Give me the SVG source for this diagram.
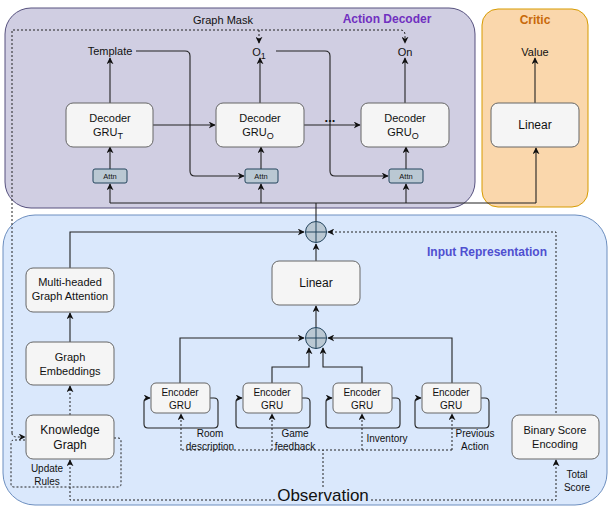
<svg xmlns="http://www.w3.org/2000/svg" width="609" height="510" viewBox="0 0 609 510">
<style>
text{font-family:"Liberation Sans",Arial,sans-serif;fill:#111}
.n{fill:#f5f5f5;stroke:#666;stroke-width:1}
.a{fill:#bac8d3;stroke:#23445d;stroke-width:1}
.l{fill:none;stroke:#222;stroke-width:1.1}
.d{fill:none;stroke:#222;stroke-width:1;stroke-dasharray:2 2}
.t{font-size:11px;text-anchor:middle}
.s{font-size:10px;text-anchor:middle}
.ttl{font-size:12px;font-weight:bold;text-anchor:middle}
</style>
<defs>
<marker id="ar" viewBox="0 0 10 10" refX="9" refY="5" markerWidth="7" markerHeight="7" orient="auto" markerUnits="userSpaceOnUse"><path d="M0,0 L10,5 L0,10 L3,5 z" fill="#111"/></marker>
</defs>
<g id="groups">
<rect x="5" y="8" width="470" height="200" rx="26" fill="#d0cee2" stroke="#56517e"/>
<text x="387" y="23" class="ttl" style="fill:#7030c0">Action Decoder</text>
<rect x="482" y="9" width="106" height="198" rx="16" fill="#fad7ac" stroke="#d79b00"/>
<text x="535" y="24" class="ttl" style="fill:#c8690a">Critic</text>
<rect x="3" y="215" width="604" height="290" rx="32" fill="#dae8fc" stroke="#6c8ebf"/>
<text x="487" y="256" class="ttl" style="fill:#4f4fd0">Input Representation</text>
</g>
<g id="connectors">
<path class="l" d="M110,103 V58" marker-end="url(#ar)"/>
<path class="l" d="M260,103 V58" marker-end="url(#ar)"/>
<path class="l" d="M405,103 V58" marker-end="url(#ar)"/>
<path class="l" d="M535,103 V58" marker-end="url(#ar)"/>
<path class="l" d="M110,169 V147" marker-end="url(#ar)"/>
<path class="l" d="M261,169 V147" marker-end="url(#ar)"/>
<path class="l" d="M406,169 V147" marker-end="url(#ar)"/>
<path class="l" d="M153,125 H215" marker-end="url(#ar)"/>
<path class="l" d="M304,125 H360" marker-end="url(#ar)"/>
<path class="l" d="M136,51 H185 Q190,51 190,56 V171 Q190,176 195,176 H244" marker-end="url(#ar)"/>
<path class="l" d="M276,51 H325 Q330,51 330,56 V171 Q330,176 335,176 H388" marker-end="url(#ar)"/>
<path class="l" d="M110,203 V184" marker-end="url(#ar)"/>
<path class="l" d="M261,203 V184" marker-end="url(#ar)"/>
<path class="l" d="M406,203 V184" marker-end="url(#ar)"/>
<path class="l" d="M536,203 V148" marker-end="url(#ar)"/>
<path class="l" d="M110,203 H536"/>
<path class="l" d="M316,221 V203"/>
<path class="d" d="M259,30 V43" marker-end="url(#ar)"/>
<path class="d" d="M12,433 V30 H400 Q405,30 405,35 V43" marker-end="url(#ar)"/>
<path class="d" d="M12,433 Q12,437 17,437 H25" marker-end="url(#ar)"/>
<path class="d" d="M114,438 H118 Q121,438 121,441 V484 Q121,487 118,487 H14 Q11,487 11,484 V443 Q11,440 14,440 H25"/>
<path class="l" d="M70,268 V232 H304" marker-end="url(#ar)"/>
<path class="d" d="M556,413 V232 H328" marker-end="url(#ar)"/>
<path class="l" d="M316,261 V244" marker-end="url(#ar)"/>
<path class="l" d="M316,327 V306" marker-end="url(#ar)"/>
<path class="l" d="M70,342 V313" marker-end="url(#ar)"/>
<path class="d" d="M70,415 V386" marker-end="url(#ar)"/>
<path class="l" d="M180,383 V338 H304" marker-end="url(#ar)"/>
<path class="l" d="M272,383 V367 H309 V348" marker-end="url(#ar)"/>
<path class="l" d="M362,383 V367 H323 V348" marker-end="url(#ar)"/>
<path class="l" d="M452,383 V338 H328" marker-end="url(#ar)"/>
<path class="l" d="M210,398 H214 Q218,398 218,402 V424 Q218,428 214,428 H148 Q144,428 144,424 V402 Q144,398 148,398 H150" marker-end="url(#ar)"/>
<path class="l" d="M302,398 H306 Q310,398 310,402 V424 Q310,428 306,428 H240 Q236,428 236,424 V402 Q236,398 240,398 H242" marker-end="url(#ar)"/>
<path class="l" d="M392,398 H396 Q400,398 400,402 V424 Q400,428 396,428 H330 Q326,428 326,424 V402 Q326,398 330,398 H332" marker-end="url(#ar)"/>
<path class="l" d="M481,398 H485 Q489,398 489,402 V424 Q489,428 485,428 H419 Q415,428 415,424 V402 Q415,398 419,398 H421" marker-end="url(#ar)"/>
<path class="d" d="M182,450 H452"/>
<path class="d" d="M181,450 V414" marker-end="url(#ar)"/>
<path class="d" d="M272,450 V414" marker-end="url(#ar)"/>
<path class="d" d="M362,450 V414" marker-end="url(#ar)"/>
<path class="d" d="M452,450 V414" marker-end="url(#ar)"/>
<path class="d" d="M323,487 V450"/>
<path class="d" d="M275,500 H70 V460" marker-end="url(#ar)"/>
<path class="d" d="M371,500 H556 V460" marker-end="url(#ar)"/>
</g>
<g id="labels">
<text x="223" y="24" class="t">Graph Mask</text>
<text x="110" y="55" class="t">Template</text>
<text x="259" y="56" class="t">O<tspan font-size="9" dy="3">1</tspan></text>
<text x="405" y="56" class="t">On</text>
<text x="535" y="56" class="t">Value</text>
<text x="330" y="122" style="font-size:13px;font-weight:bold;text-anchor:middle">...</text>
<text x="210" y="437" class="s">Room</text>
<text x="210" y="450" class="s">description</text>
<text x="295" y="437" class="s">Game</text>
<text x="295" y="450" class="s">feedback</text>
<text x="387" y="442" class="s">Inventory</text>
<text x="475" y="437" class="s">Previous</text>
<text x="475" y="450" class="s">Action</text>
<text x="47" y="472" class="s">Update</text>
<text x="47" y="485" class="s">Rules</text>
<text x="577" y="478" class="s">Total</text>
<text x="577" y="491" class="s">Score</text>
<text x="323" y="501" style="font-size:17px;text-anchor:middle">Observation</text>
</g>
<g id="decoder1"><rect class="n" x="66" y="103" width="87" height="44" rx="7"/><text x="110" y="122" class="t">Decoder</text><text x="108" y="136" class="t">GRU<tspan font-size="9" dy="3">T</tspan></text></g>
<g id="decoder2"><rect class="n" x="216" y="103" width="88" height="44" rx="7"/><text x="260" y="122" class="t">Decoder</text><text x="258" y="136" class="t">GRU<tspan font-size="9" dy="3">O</tspan></text></g>
<g id="decoder3"><rect class="n" x="361" y="103" width="88" height="44" rx="7"/><text x="405" y="122" class="t">Decoder</text><text x="403" y="136" class="t">GRU<tspan font-size="9" dy="3">O</tspan></text></g>
<g id="attn1"><rect class="a" x="93" y="169" width="34" height="14" rx="2"/><text x="110" y="179" style="font-size:7.5px;text-anchor:middle">Attn</text></g>
<g id="attn2"><rect class="a" x="245" y="169" width="33" height="14" rx="2"/><text x="261" y="179" style="font-size:7.5px;text-anchor:middle">Attn</text></g>
<g id="attn3"><rect class="a" x="389" y="169" width="34" height="14" rx="2"/><text x="406" y="179" style="font-size:7.5px;text-anchor:middle">Attn</text></g>
<g id="critic-linear"><rect class="n" x="491" y="103" width="88" height="44" rx="7"/><text x="535" y="129" style="font-size:12px;text-anchor:middle">Linear</text></g>
<g id="sum1"><circle class="a" cx="316" cy="232" r="10.5"/><path d="M316,221.5 V242.5 M305.5,232 H326.5" stroke="#23445d" stroke-width="1"/></g>
<g id="linear"><rect class="n" x="272" y="261" width="88" height="44" rx="7"/><text x="316" y="287" style="font-size:12px;text-anchor:middle">Linear</text></g>
<g id="sum2"><circle class="a" cx="316" cy="338" r="10.5"/><path d="M316,327.5 V348.5 M305.5,338 H326.5" stroke="#23445d" stroke-width="1"/></g>
<g id="mhga"><rect class="n" x="26" y="268" width="88" height="44" rx="7"/><text x="70" y="286" class="t">Multi-headed</text><text x="70" y="300" class="t">Graph Attention</text></g>
<g id="graph-embeddings"><rect class="n" x="26" y="342" width="88" height="43" rx="7"/><text x="70" y="361" class="t">Graph</text><text x="70" y="375" class="t">Embeddings</text></g>
<g id="knowledge-graph"><rect class="n" x="26" y="415" width="88" height="44" rx="7"/><text x="70" y="434" style="font-size:12px;text-anchor:middle">Knowledge</text><text x="70" y="449" style="font-size:12px;text-anchor:middle">Graph</text></g>
<g id="enc1"><rect class="n" x="151" y="383" width="59" height="30" rx="5"/><text x="180" y="396" class="s">Encoder</text><text x="180" y="409" class="s">GRU</text></g>
<g id="enc2"><rect class="n" x="243" y="383" width="59" height="30" rx="5"/><text x="272" y="396" class="s">Encoder</text><text x="272" y="409" class="s">GRU</text></g>
<g id="enc3"><rect class="n" x="333" y="383" width="59" height="30" rx="5"/><text x="362" y="396" class="s">Encoder</text><text x="362" y="409" class="s">GRU</text></g>
<g id="enc4"><rect class="n" x="422" y="383" width="59" height="30" rx="5"/><text x="451" y="396" class="s">Encoder</text><text x="451" y="409" class="s">GRU</text></g>
<g id="binary-score"><rect class="n" x="512" y="415" width="87" height="44" rx="7"/><text x="555" y="434" class="t">Binary Score</text><text x="555" y="448" class="t">Encoding</text></g>
</svg>
